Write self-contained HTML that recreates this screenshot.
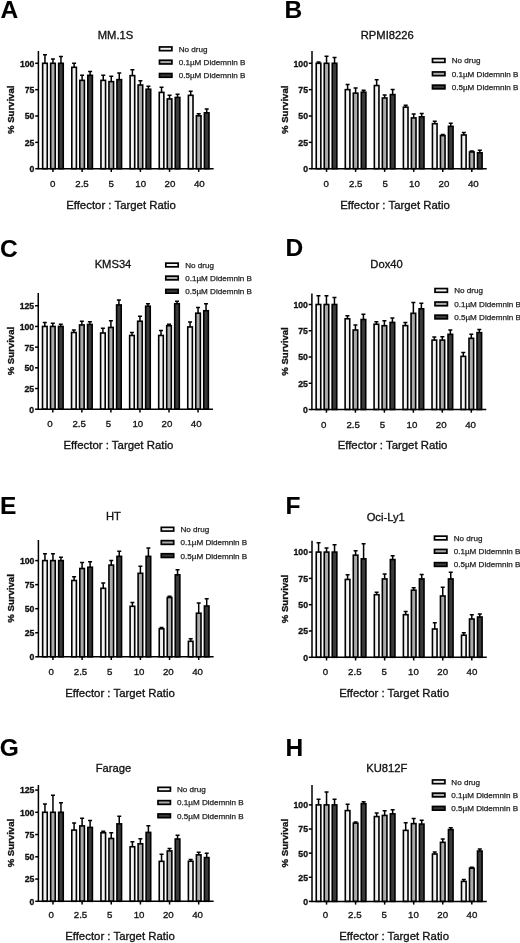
<!DOCTYPE html><html><head><meta charset="utf-8"><title>Figure</title><style>
html,body{margin:0;padding:0;background:#fff;}body{width:520px;height:943px;overflow:hidden;}
svg{display:block;filter:blur(0.3px);font-family:"Liberation Sans",sans-serif;}
.pl{font-weight:bold;font-size:24.5px;stroke-width:0.1px;fill:#000}.ti{font-size:11.2px;fill:#111;text-anchor:middle}
.yt{font-weight:bold;font-size:8.7px;fill:#111;text-anchor:end}.xt{font-size:9.7px;fill:#111;text-anchor:middle}
.xa{font-size:11.4px;fill:#111;text-anchor:middle}.ya{font-weight:bold;font-size:9.6px;fill:#111;text-anchor:middle}
.lg{font-size:8.1px;fill:#222}text{stroke:#111;stroke-width:0.32px;paint-order:stroke}.lg{stroke:#222;stroke-width:0.25px}
.ax{stroke:#000;stroke-width:1.5;fill:none}.eb{stroke:#000;stroke-width:1.5;fill:none}
.b0{fill:#f2f2f2;stroke:#000;stroke-width:1.6}.b1{fill:#aaaaaa;stroke:#000;stroke-width:1.6}.b2{fill:#3a3a3a;stroke:#000;stroke-width:1.6}
</style></head><body>
<svg width="520" height="943" viewBox="0 0 520 943">
<rect width="520" height="943" fill="#fff"/>
<g>
<text class="pl" x="0.6" y="17.7">A</text>
<text class="ti" x="115.5" y="38.6">MM.1S</text>
<path class="eb" d="M44.95 63.30V54.87M42.95 54.87H46.95"/>
<rect class="b0" x="42.65" y="63.30" width="4.60" height="105.40"/>
<path class="eb" d="M52.95 63.30V59.08M50.95 59.08H54.95"/>
<rect class="b1" x="50.65" y="63.30" width="4.60" height="105.40"/>
<path class="eb" d="M60.95 63.30V56.55M58.95 56.55H62.95"/>
<rect class="b2" x="58.65" y="63.30" width="4.60" height="105.40"/>
<path class="eb" d="M74.10 67.31V63.30M72.10 63.30H76.10"/>
<rect class="b0" x="71.80" y="67.31" width="4.60" height="101.39"/>
<path class="eb" d="M82.10 80.37V75.32M80.10 75.32H84.10"/>
<rect class="b1" x="79.80" y="80.37" width="4.60" height="88.33"/>
<path class="eb" d="M90.10 75.32V71.52M88.10 71.52H92.10"/>
<rect class="b2" x="87.80" y="75.32" width="4.60" height="93.38"/>
<path class="eb" d="M103.25 80.37V75.32M101.25 75.32H105.25"/>
<rect class="b0" x="100.95" y="80.37" width="4.60" height="88.33"/>
<path class="eb" d="M111.25 81.64V76.16M109.25 76.16H113.25"/>
<rect class="b1" x="108.95" y="81.64" width="4.60" height="87.06"/>
<path class="eb" d="M119.25 79.64V72.89M117.25 72.89H121.25"/>
<rect class="b2" x="116.95" y="79.64" width="4.60" height="89.06"/>
<path class="eb" d="M132.40 75.63V69.83M130.40 69.83H134.40"/>
<rect class="b0" x="130.10" y="75.63" width="4.60" height="93.07"/>
<path class="eb" d="M140.40 85.01V80.80M138.40 80.80H142.40"/>
<rect class="b1" x="138.10" y="85.01" width="4.60" height="83.69"/>
<path class="eb" d="M148.40 89.23V86.17M146.40 86.17H150.40"/>
<rect class="b2" x="146.10" y="89.23" width="4.60" height="79.47"/>
<path class="eb" d="M161.55 92.39V87.33M159.55 87.33H163.55"/>
<rect class="b0" x="159.25" y="92.39" width="4.60" height="76.31"/>
<path class="eb" d="M169.55 98.93V95.13M167.55 95.13H171.55"/>
<rect class="b1" x="167.25" y="98.93" width="4.60" height="69.77"/>
<path class="eb" d="M177.55 97.45V94.18M175.55 94.18H179.55"/>
<rect class="b2" x="175.25" y="97.45" width="4.60" height="71.25"/>
<path class="eb" d="M190.70 95.34V91.13M188.70 91.13H192.70"/>
<rect class="b0" x="188.40" y="95.34" width="4.60" height="73.36"/>
<path class="eb" d="M198.70 115.79V113.79M196.70 113.79H200.70"/>
<rect class="b1" x="196.40" y="115.79" width="4.60" height="52.91"/>
<path class="eb" d="M206.70 112.84V109.04M204.70 109.04H208.70"/>
<rect class="b2" x="204.40" y="112.84" width="4.60" height="55.86"/>
<path class="ax" d="M38.40 51.00V168.70H213.65"/>
<path class="ax" d="M35.20 168.70H38.40"/>
<text class="yt" x="34.4" y="172.0">0</text>
<path class="ax" d="M35.20 142.35H38.40"/>
<text class="yt" x="34.4" y="145.7">25</text>
<path class="ax" d="M35.20 116.00H38.40"/>
<text class="yt" x="34.4" y="119.3">50</text>
<path class="ax" d="M35.20 89.65H38.40"/>
<text class="yt" x="34.4" y="93.0">75</text>
<path class="ax" d="M35.20 63.30H38.40"/>
<text class="yt" x="34.4" y="66.6">100</text>
<path class="ax" d="M52.95 168.70V171.90"/>
<text class="xt" x="52.6" y="187.1">0</text>
<path class="ax" d="M82.10 168.70V171.90"/>
<text class="xt" x="82.0" y="187.1">2.5</text>
<path class="ax" d="M111.25 168.70V171.90"/>
<text class="xt" x="111.3" y="187.1">5</text>
<path class="ax" d="M140.40 168.70V171.90"/>
<text class="xt" x="140.7" y="187.1">10</text>
<path class="ax" d="M169.55 168.70V171.90"/>
<text class="xt" x="170.0" y="187.1">20</text>
<path class="ax" d="M198.70 168.70V171.90"/>
<text class="xt" x="199.3" y="187.1">40</text>
<text class="xa" x="121.0" y="208.6">Effector : Target Ratio</text>
<text class="ya" transform="translate(14.2 109.8) rotate(-90)">% Survival</text>
<rect class="b0" style="stroke-width:1.7" x="159.50" y="46.95" width="12.4" height="3.7"/>
<text class="lg" x="178.7" y="51.7">No drug</text>
<rect class="b1" style="stroke-width:1.7" x="159.50" y="60.25" width="12.4" height="3.7"/>
<text class="lg" x="178.7" y="65.0">0.1µM Didemnin B</text>
<rect class="b2" style="stroke-width:1.7" x="159.50" y="73.55" width="12.4" height="3.7"/>
<text class="lg" x="178.7" y="78.3">0.5µM Didemnin B</text>
</g>
<g>
<text class="pl" x="284.5" y="18.0">B</text>
<text class="ti" x="387.2" y="38.6">RPMI8226</text>
<path class="eb" d="M318.55 63.30V62.04M316.55 62.04H320.55"/>
<rect class="b0" x="316.25" y="63.30" width="4.60" height="105.40"/>
<path class="eb" d="M326.55 63.30V56.24M324.55 56.24H328.55"/>
<rect class="b1" x="324.25" y="63.30" width="4.60" height="105.40"/>
<path class="eb" d="M334.55 63.30V57.50M332.55 57.50H336.55"/>
<rect class="b2" x="332.25" y="63.30" width="4.60" height="105.40"/>
<path class="eb" d="M347.60 89.65V84.59M345.60 84.59H349.60"/>
<rect class="b0" x="345.30" y="89.65" width="4.60" height="79.05"/>
<path class="eb" d="M355.60 93.13V88.07M353.60 88.07H357.60"/>
<rect class="b1" x="353.30" y="93.13" width="4.60" height="75.57"/>
<path class="eb" d="M363.60 92.18V90.18M361.60 90.18H365.60"/>
<rect class="b2" x="361.30" y="92.18" width="4.60" height="76.52"/>
<path class="eb" d="M376.65 85.54V79.74M374.65 79.74H378.65"/>
<rect class="b0" x="374.35" y="85.54" width="4.60" height="83.16"/>
<path class="eb" d="M384.65 97.98V94.92M382.65 94.92H386.65"/>
<rect class="b1" x="382.35" y="97.98" width="4.60" height="70.72"/>
<path class="eb" d="M392.65 94.60V89.54M390.65 89.54H394.65"/>
<rect class="b2" x="390.35" y="94.60" width="4.60" height="74.10"/>
<path class="eb" d="M405.70 107.15V105.35M403.70 105.35H407.70"/>
<rect class="b0" x="403.40" y="107.15" width="4.60" height="61.55"/>
<path class="eb" d="M413.70 117.90V113.89M411.70 113.89H415.70"/>
<rect class="b1" x="411.40" y="117.90" width="4.60" height="50.80"/>
<path class="eb" d="M421.70 116.84V113.58M419.70 113.58H423.70"/>
<rect class="b2" x="419.40" y="116.84" width="4.60" height="51.86"/>
<path class="eb" d="M434.75 123.69V121.16M432.75 121.16H436.75"/>
<rect class="b0" x="432.45" y="123.69" width="4.60" height="45.01"/>
<path class="eb" d="M442.75 135.60V134.55M440.75 134.55H444.75"/>
<rect class="b1" x="440.45" y="135.60" width="4.60" height="33.10"/>
<path class="eb" d="M450.75 126.33V123.27M448.75 123.27H452.75"/>
<rect class="b2" x="448.45" y="126.33" width="4.60" height="42.37"/>
<path class="eb" d="M463.80 134.97V132.44M461.80 132.44H465.80"/>
<rect class="b0" x="461.50" y="134.97" width="4.60" height="33.73"/>
<path class="eb" d="M471.80 151.94V150.89M469.80 150.89H473.80"/>
<rect class="b1" x="469.50" y="151.94" width="4.60" height="16.76"/>
<path class="eb" d="M479.80 152.78V150.25M477.80 150.25H481.80"/>
<rect class="b2" x="477.50" y="152.78" width="4.60" height="15.92"/>
<path class="ax" d="M312.00 51.00V168.70H486.75"/>
<path class="ax" d="M308.80 168.70H312.00"/>
<text class="yt" x="308.0" y="172.0">0</text>
<path class="ax" d="M308.80 142.35H312.00"/>
<text class="yt" x="308.0" y="145.7">25</text>
<path class="ax" d="M308.80 116.00H312.00"/>
<text class="yt" x="308.0" y="119.3">50</text>
<path class="ax" d="M308.80 89.65H312.00"/>
<text class="yt" x="308.0" y="93.0">75</text>
<path class="ax" d="M308.80 63.30H312.00"/>
<text class="yt" x="308.0" y="66.6">100</text>
<path class="ax" d="M326.55 168.70V171.90"/>
<text class="xt" x="326.3" y="187.1">0</text>
<path class="ax" d="M355.60 168.70V171.90"/>
<text class="xt" x="355.7" y="187.1">2.5</text>
<path class="ax" d="M384.65 168.70V171.90"/>
<text class="xt" x="385.1" y="187.1">5</text>
<path class="ax" d="M413.70 168.70V171.90"/>
<text class="xt" x="414.5" y="187.1">10</text>
<path class="ax" d="M442.75 168.70V171.90"/>
<text class="xt" x="443.9" y="187.1">20</text>
<path class="ax" d="M471.80 168.70V171.90"/>
<text class="xt" x="473.3" y="187.1">40</text>
<text class="xa" x="395.0" y="208.6">Effector : Target Ratio</text>
<text class="ya" transform="translate(287.8 109.8) rotate(-90)">% Survival</text>
<rect class="b0" style="stroke-width:1.7" x="432.50" y="58.65" width="12.4" height="3.7"/>
<text class="lg" x="451.7" y="63.4">No drug</text>
<rect class="b1" style="stroke-width:1.7" x="432.50" y="71.95" width="12.4" height="3.7"/>
<text class="lg" x="451.7" y="76.7">0.1µM Didemnin B</text>
<rect class="b2" style="stroke-width:1.7" x="432.50" y="85.15" width="12.4" height="3.7"/>
<text class="lg" x="451.7" y="89.9">0.5µM Didemnin B</text>
</g>
<g>
<text class="pl" x="0.0" y="256.7">C</text>
<text class="ti" x="113.0" y="267.6">KMS34</text>
<path class="eb" d="M44.80 326.45V322.48M42.80 322.48H46.80"/>
<rect class="b0" x="42.50" y="326.45" width="4.60" height="82.75"/>
<path class="eb" d="M52.80 326.45V323.22M50.80 323.22H54.80"/>
<rect class="b1" x="50.50" y="326.45" width="4.60" height="82.75"/>
<path class="eb" d="M60.80 326.45V324.22M58.80 324.22H62.80"/>
<rect class="b2" x="58.50" y="326.45" width="4.60" height="82.75"/>
<path class="eb" d="M73.85 332.49V330.01M71.85 330.01H75.85"/>
<rect class="b0" x="71.55" y="332.49" width="4.60" height="76.71"/>
<path class="eb" d="M81.85 324.96V321.24M79.85 321.24H83.85"/>
<rect class="b1" x="79.55" y="324.96" width="4.60" height="84.24"/>
<path class="eb" d="M89.85 324.46V321.73M87.85 321.73H91.85"/>
<rect class="b2" x="87.55" y="324.46" width="4.60" height="84.74"/>
<path class="eb" d="M102.90 332.99V328.27M100.90 328.27H104.90"/>
<rect class="b0" x="100.60" y="332.99" width="4.60" height="76.21"/>
<path class="eb" d="M110.90 327.44V320.66M108.90 320.66H112.90"/>
<rect class="b1" x="108.60" y="327.44" width="4.60" height="81.76"/>
<path class="eb" d="M118.90 304.94V299.97M116.90 299.97H120.90"/>
<rect class="b2" x="116.60" y="304.94" width="4.60" height="104.26"/>
<path class="eb" d="M131.95 335.47V332.49M129.95 332.49H133.95"/>
<rect class="b0" x="129.65" y="335.47" width="4.60" height="73.73"/>
<path class="eb" d="M139.95 321.24V316.27M137.95 316.27H141.95"/>
<rect class="b1" x="137.65" y="321.24" width="4.60" height="87.96"/>
<path class="eb" d="M147.95 306.18V303.69M145.95 303.69H149.95"/>
<rect class="b2" x="145.65" y="306.18" width="4.60" height="103.02"/>
<path class="eb" d="M161.00 335.47V330.50M159.00 330.50H163.00"/>
<rect class="b0" x="158.70" y="335.47" width="4.60" height="73.73"/>
<path class="eb" d="M169.00 325.71V324.22M167.00 324.22H171.00"/>
<rect class="b1" x="166.70" y="325.71" width="4.60" height="83.49"/>
<path class="eb" d="M177.00 303.69V301.21M175.00 301.21H179.00"/>
<rect class="b2" x="174.70" y="303.69" width="4.60" height="105.51"/>
<path class="eb" d="M190.05 326.95V321.98M188.05 321.98H192.05"/>
<rect class="b0" x="187.75" y="326.95" width="4.60" height="82.25"/>
<path class="eb" d="M198.05 313.21V307.42M196.05 307.42H200.05"/>
<rect class="b1" x="195.75" y="313.21" width="4.60" height="95.99"/>
<path class="eb" d="M206.05 310.73V303.69M204.05 303.69H208.05"/>
<rect class="b2" x="203.75" y="310.73" width="4.60" height="98.47"/>
<path class="ax" d="M38.25 293.00V409.20H213.00"/>
<path class="ax" d="M35.05 409.20H38.25"/>
<text class="yt" x="34.2" y="412.6">0</text>
<path class="ax" d="M35.05 388.51H38.25"/>
<text class="yt" x="34.2" y="391.9">25</text>
<path class="ax" d="M35.05 367.82H38.25"/>
<text class="yt" x="34.2" y="371.2">50</text>
<path class="ax" d="M35.05 347.14H38.25"/>
<text class="yt" x="34.2" y="350.5">75</text>
<path class="ax" d="M35.05 326.45H38.25"/>
<text class="yt" x="34.2" y="329.8">100</text>
<path class="ax" d="M35.05 305.76H38.25"/>
<text class="yt" x="34.2" y="309.1">125</text>
<path class="ax" d="M52.80 409.20V412.40"/>
<text class="xt" x="50.0" y="427.4">0</text>
<path class="ax" d="M81.85 409.20V412.40"/>
<text class="xt" x="79.2" y="427.4">2.5</text>
<path class="ax" d="M110.90 409.20V412.40"/>
<text class="xt" x="108.5" y="427.4">5</text>
<path class="ax" d="M139.95 409.20V412.40"/>
<text class="xt" x="137.8" y="427.4">10</text>
<path class="ax" d="M169.00 409.20V412.40"/>
<text class="xt" x="167.0" y="427.4">20</text>
<path class="ax" d="M198.05 409.20V412.40"/>
<text class="xt" x="196.2" y="427.4">40</text>
<text class="xa" x="118.4" y="449.3">Effector : Target Ratio</text>
<text class="ya" transform="translate(14.1 351.1) rotate(-90)">% Survival</text>
<rect class="b0" style="stroke-width:1.7" x="165.80" y="263.15" width="12.4" height="3.7"/>
<text class="lg" x="185.2" y="267.9">No drug</text>
<rect class="b1" style="stroke-width:1.7" x="165.80" y="276.15" width="12.4" height="3.7"/>
<text class="lg" x="185.2" y="280.9">0.1µM Didemnin B</text>
<rect class="b2" style="stroke-width:1.7" x="165.80" y="289.45" width="12.4" height="3.7"/>
<text class="lg" x="185.2" y="294.2">0.5µM Didemnin B</text>
</g>
<g>
<text class="pl" x="285.5" y="256.3">D</text>
<text class="ti" x="386.5" y="267.6">Dox40</text>
<path class="eb" d="M318.45 304.50V295.79M316.45 295.79H320.45"/>
<rect class="b0" x="316.15" y="304.50" width="4.60" height="105.00"/>
<path class="eb" d="M326.45 304.50V295.79M324.45 295.79H328.45"/>
<rect class="b1" x="324.15" y="304.50" width="4.60" height="105.00"/>
<path class="eb" d="M334.45 304.50V297.46M332.45 297.46H336.45"/>
<rect class="b2" x="332.15" y="304.50" width="4.60" height="105.00"/>
<path class="eb" d="M347.42 318.78V315.73M345.42 315.73H349.42"/>
<rect class="b0" x="345.12" y="318.78" width="4.60" height="90.72"/>
<path class="eb" d="M355.42 330.01V324.97M353.42 324.97H357.42"/>
<rect class="b1" x="353.12" y="330.01" width="4.60" height="79.49"/>
<path class="eb" d="M363.42 319.51V314.26M361.42 314.26H365.42"/>
<rect class="b2" x="361.12" y="319.51" width="4.60" height="89.99"/>
<path class="eb" d="M376.39 324.24V321.72M374.39 321.72H378.39"/>
<rect class="b0" x="374.09" y="324.24" width="4.60" height="85.26"/>
<path class="eb" d="M384.39 325.71V320.67M382.39 320.67H386.39"/>
<rect class="b1" x="382.09" y="325.71" width="4.60" height="83.79"/>
<path class="eb" d="M392.39 322.45V317.94M390.39 317.94H394.39"/>
<rect class="b2" x="390.09" y="322.45" width="4.60" height="87.05"/>
<path class="eb" d="M405.36 325.61V322.56M403.36 322.56H407.36"/>
<rect class="b0" x="403.06" y="325.61" width="4.60" height="83.89"/>
<path class="eb" d="M413.36 313.32V302.61M411.36 302.61H415.36"/>
<rect class="b1" x="411.06" y="313.32" width="4.60" height="96.18"/>
<path class="eb" d="M421.36 308.81V303.35M419.36 303.35H423.36"/>
<rect class="b2" x="419.06" y="308.81" width="4.60" height="100.69"/>
<path class="eb" d="M434.33 340.10V337.05M432.33 337.05H436.33"/>
<rect class="b0" x="432.03" y="340.10" width="4.60" height="69.40"/>
<path class="eb" d="M442.33 340.10V336.84M440.33 336.84H444.33"/>
<rect class="b1" x="440.03" y="340.10" width="4.60" height="69.40"/>
<path class="eb" d="M450.33 334.32V330.12M448.33 330.12H452.33"/>
<rect class="b2" x="448.03" y="334.32" width="4.60" height="75.18"/>
<path class="eb" d="M463.30 356.37V352.59M461.30 352.59H465.30"/>
<rect class="b0" x="461.00" y="356.37" width="4.60" height="53.13"/>
<path class="eb" d="M471.30 338.31V334.32M469.30 334.32H473.30"/>
<rect class="b1" x="469.00" y="338.31" width="4.60" height="71.19"/>
<path class="eb" d="M479.30 332.64V329.38M477.30 329.38H481.30"/>
<rect class="b2" x="477.00" y="332.64" width="4.60" height="76.86"/>
<path class="ax" d="M311.90 293.50V409.50H486.25"/>
<path class="ax" d="M308.70 409.50H311.90"/>
<text class="yt" x="307.9" y="412.9">0</text>
<path class="ax" d="M308.70 383.25H311.90"/>
<text class="yt" x="307.9" y="386.6">25</text>
<path class="ax" d="M308.70 357.00H311.90"/>
<text class="yt" x="307.9" y="360.4">50</text>
<path class="ax" d="M308.70 330.75H311.90"/>
<text class="yt" x="307.9" y="334.1">75</text>
<path class="ax" d="M308.70 304.50H311.90"/>
<text class="yt" x="307.9" y="307.9">100</text>
<path class="ax" d="M326.45 409.50V412.70"/>
<text class="xt" x="323.8" y="427.5">0</text>
<path class="ax" d="M355.42 409.50V412.70"/>
<text class="xt" x="353.2" y="427.5">2.5</text>
<path class="ax" d="M384.39 409.50V412.70"/>
<text class="xt" x="382.5" y="427.5">5</text>
<path class="ax" d="M413.36 409.50V412.70"/>
<text class="xt" x="411.9" y="427.5">10</text>
<path class="ax" d="M442.33 409.50V412.70"/>
<text class="xt" x="441.2" y="427.5">20</text>
<path class="ax" d="M471.30 409.50V412.70"/>
<text class="xt" x="470.6" y="427.5">40</text>
<text class="xa" x="392.5" y="449.3">Effector : Target Ratio</text>
<text class="ya" transform="translate(287.7 351.5) rotate(-90)">% Survival</text>
<rect class="b0" style="stroke-width:1.7" x="435.00" y="288.55" width="12.4" height="3.7"/>
<text class="lg" x="454.2" y="293.3">No drug</text>
<rect class="b1" style="stroke-width:1.7" x="435.00" y="302.05" width="12.4" height="3.7"/>
<text class="lg" x="454.2" y="306.8">0.1µM Didemnin B</text>
<rect class="b2" style="stroke-width:1.7" x="435.00" y="315.15" width="12.4" height="3.7"/>
<text class="lg" x="454.2" y="319.9">0.5µM Didemnin B</text>
</g>
<g>
<text class="pl" x="0.0" y="513.8">E</text>
<text class="ti" x="113.5" y="520.1">HT</text>
<path class="eb" d="M44.95 560.60V553.87M42.95 553.87H46.95"/>
<rect class="b0" x="42.65" y="560.60" width="4.60" height="96.20"/>
<path class="eb" d="M52.95 560.60V553.87M50.95 553.87H54.95"/>
<rect class="b1" x="50.65" y="560.60" width="4.60" height="96.20"/>
<path class="eb" d="M60.95 560.60V557.14M58.95 557.14H62.95"/>
<rect class="b2" x="58.65" y="560.60" width="4.60" height="96.20"/>
<path class="eb" d="M74.10 580.51V576.76M72.10 576.76H76.10"/>
<rect class="b0" x="71.80" y="580.51" width="4.60" height="76.29"/>
<path class="eb" d="M82.10 568.49V562.52M80.10 562.52H84.10"/>
<rect class="b1" x="79.80" y="568.49" width="4.60" height="88.31"/>
<path class="eb" d="M90.10 567.24V561.75M88.10 561.75H92.10"/>
<rect class="b2" x="87.80" y="567.24" width="4.60" height="89.56"/>
<path class="eb" d="M103.25 588.31V583.01M101.25 583.01H105.25"/>
<rect class="b0" x="100.95" y="588.31" width="4.60" height="68.49"/>
<path class="eb" d="M111.25 565.12V560.60M109.25 560.60H113.25"/>
<rect class="b1" x="108.95" y="565.12" width="4.60" height="91.68"/>
<path class="eb" d="M119.25 556.37V551.36M117.25 551.36H121.25"/>
<rect class="b2" x="116.95" y="556.37" width="4.60" height="100.43"/>
<path class="eb" d="M132.40 606.29V602.54M130.40 602.54H134.40"/>
<rect class="b0" x="130.10" y="606.29" width="4.60" height="50.50"/>
<path class="eb" d="M140.40 573.30V566.28M138.40 566.28H142.40"/>
<rect class="b1" x="138.10" y="573.30" width="4.60" height="83.50"/>
<path class="eb" d="M148.40 556.37V548.09M146.40 548.09H150.40"/>
<rect class="b2" x="146.10" y="556.37" width="4.60" height="100.43"/>
<path class="eb" d="M161.55 628.81V627.56M159.55 627.56H163.55"/>
<rect class="b0" x="159.25" y="628.81" width="4.60" height="27.99"/>
<path class="eb" d="M169.55 597.54V596.29M167.55 596.29H171.55"/>
<rect class="b1" x="167.25" y="597.54" width="4.60" height="59.26"/>
<path class="eb" d="M177.55 574.84V569.84M175.55 569.84H179.55"/>
<rect class="b2" x="175.25" y="574.84" width="4.60" height="81.96"/>
<path class="eb" d="M190.70 641.31V638.81M188.70 638.81H192.70"/>
<rect class="b0" x="188.40" y="641.31" width="4.60" height="15.49"/>
<path class="eb" d="M198.70 613.22V602.93M196.70 602.93H200.70"/>
<rect class="b1" x="196.40" y="613.22" width="4.60" height="43.58"/>
<path class="eb" d="M206.70 606.01V598.79M204.70 598.79H208.70"/>
<rect class="b2" x="204.40" y="606.01" width="4.60" height="50.79"/>
<path class="ax" d="M38.40 540.00V656.80H213.65"/>
<path class="ax" d="M35.20 656.80H38.40"/>
<text class="yt" x="34.4" y="660.1">0</text>
<path class="ax" d="M35.20 632.75H38.40"/>
<text class="yt" x="34.4" y="636.1">25</text>
<path class="ax" d="M35.20 608.70H38.40"/>
<text class="yt" x="34.4" y="612.0">50</text>
<path class="ax" d="M35.20 584.65H38.40"/>
<text class="yt" x="34.4" y="588.0">75</text>
<path class="ax" d="M35.20 560.60H38.40"/>
<text class="yt" x="34.4" y="563.9">100</text>
<path class="ax" d="M52.95 656.80V660.00"/>
<text class="xt" x="51.3" y="675.0">0</text>
<path class="ax" d="M82.10 656.80V660.00"/>
<text class="xt" x="80.5" y="675.0">2.5</text>
<path class="ax" d="M111.25 656.80V660.00"/>
<text class="xt" x="109.8" y="675.0">5</text>
<path class="ax" d="M140.40 656.80V660.00"/>
<text class="xt" x="139.1" y="675.0">10</text>
<path class="ax" d="M169.55 656.80V660.00"/>
<text class="xt" x="168.3" y="675.0">20</text>
<path class="ax" d="M198.70 656.80V660.00"/>
<text class="xt" x="197.6" y="675.0">40</text>
<text class="xa" x="120.0" y="697.0">Effector : Target Ratio</text>
<text class="ya" transform="translate(14.2 598.4) rotate(-90)">% Survival</text>
<rect class="b0" style="stroke-width:1.7" x="161.30" y="527.35" width="12.4" height="3.7"/>
<text class="lg" x="180.5" y="532.1">No drug</text>
<rect class="b1" style="stroke-width:1.7" x="161.30" y="540.65" width="12.4" height="3.7"/>
<text class="lg" x="180.5" y="545.4">0.1µM Didemnin B</text>
<rect class="b2" style="stroke-width:1.7" x="161.30" y="553.75" width="12.4" height="3.7"/>
<text class="lg" x="180.5" y="558.5">0.5µM Didemnin B</text>
</g>
<g>
<text class="pl" x="285.5" y="513.8">F</text>
<text class="ti" x="385.7" y="520.5">Oci-Ly1</text>
<path class="eb" d="M318.55 552.10V542.63M316.55 542.63H320.55"/>
<rect class="b0" x="316.25" y="552.10" width="4.60" height="105.20"/>
<path class="eb" d="M326.55 552.10V548.10M324.55 548.10H328.55"/>
<rect class="b1" x="324.25" y="552.10" width="4.60" height="105.20"/>
<path class="eb" d="M334.55 552.10V544.63M332.55 544.63H336.55"/>
<rect class="b2" x="332.25" y="552.10" width="4.60" height="105.20"/>
<path class="eb" d="M347.60 579.45V574.72M345.60 574.72H349.60"/>
<rect class="b0" x="345.30" y="579.45" width="4.60" height="77.85"/>
<path class="eb" d="M355.60 555.15V550.63M353.60 550.63H357.60"/>
<rect class="b1" x="353.30" y="555.15" width="4.60" height="102.15"/>
<path class="eb" d="M363.60 558.83V543.79M361.60 543.79H365.60"/>
<rect class="b2" x="361.30" y="558.83" width="4.60" height="98.47"/>
<path class="eb" d="M376.65 594.71V592.18M374.65 592.18H378.65"/>
<rect class="b0" x="374.35" y="594.71" width="4.60" height="62.59"/>
<path class="eb" d="M384.65 578.93V573.88M382.65 573.88H386.65"/>
<rect class="b1" x="382.35" y="578.93" width="4.60" height="78.37"/>
<path class="eb" d="M392.65 559.57V555.68M390.65 555.68H394.65"/>
<rect class="b2" x="390.35" y="559.57" width="4.60" height="97.73"/>
<path class="eb" d="M405.70 614.69V611.43M403.70 611.43H407.70"/>
<rect class="b0" x="403.40" y="614.69" width="4.60" height="42.61"/>
<path class="eb" d="M413.70 590.18V587.66M411.70 587.66H415.70"/>
<rect class="b1" x="411.40" y="590.18" width="4.60" height="67.12"/>
<path class="eb" d="M421.70 578.93V574.40M419.70 574.40H423.70"/>
<rect class="b2" x="419.40" y="578.93" width="4.60" height="78.37"/>
<path class="eb" d="M434.75 629.00V622.69M432.75 622.69H436.75"/>
<rect class="b0" x="432.45" y="629.00" width="4.60" height="28.30"/>
<path class="eb" d="M442.75 595.97V587.24M440.75 587.24H444.75"/>
<rect class="b1" x="440.45" y="595.97" width="4.60" height="61.33"/>
<path class="eb" d="M450.75 578.93V572.19M448.75 572.19H452.75"/>
<rect class="b2" x="448.45" y="578.93" width="4.60" height="78.37"/>
<path class="eb" d="M463.80 635.21V632.68M461.80 632.68H465.80"/>
<rect class="b0" x="461.50" y="635.21" width="4.60" height="22.09"/>
<path class="eb" d="M471.80 619.01V614.80M469.80 614.80H473.80"/>
<rect class="b1" x="469.50" y="619.01" width="4.60" height="38.29"/>
<path class="eb" d="M479.80 617.01V613.96M477.80 613.96H481.80"/>
<rect class="b2" x="477.50" y="617.01" width="4.60" height="40.29"/>
<path class="ax" d="M312.00 540.70V657.30H486.75"/>
<path class="ax" d="M308.80 657.30H312.00"/>
<text class="yt" x="308.0" y="660.6">0</text>
<path class="ax" d="M308.80 631.00H312.00"/>
<text class="yt" x="308.0" y="634.4">25</text>
<path class="ax" d="M308.80 604.70H312.00"/>
<text class="yt" x="308.0" y="608.0">50</text>
<path class="ax" d="M308.80 578.40H312.00"/>
<text class="yt" x="308.0" y="581.8">75</text>
<path class="ax" d="M308.80 552.10H312.00"/>
<text class="yt" x="308.0" y="555.4">100</text>
<path class="ax" d="M326.55 657.30V660.50"/>
<text class="xt" x="325.5" y="675.0">0</text>
<path class="ax" d="M355.60 657.30V660.50"/>
<text class="xt" x="354.8" y="675.0">2.5</text>
<path class="ax" d="M384.65 657.30V660.50"/>
<text class="xt" x="384.1" y="675.0">5</text>
<path class="ax" d="M413.70 657.30V660.50"/>
<text class="xt" x="413.4" y="675.0">10</text>
<path class="ax" d="M442.75 657.30V660.50"/>
<text class="xt" x="442.7" y="675.0">20</text>
<path class="ax" d="M471.80 657.30V660.50"/>
<text class="xt" x="472.0" y="675.0">40</text>
<text class="xa" x="394.1" y="697.0">Effector : Target Ratio</text>
<text class="ya" transform="translate(287.8 599.0) rotate(-90)">% Survival</text>
<rect class="b0" style="stroke-width:1.7" x="434.50" y="536.15" width="12.4" height="3.7"/>
<text class="lg" x="453.7" y="540.9">No drug</text>
<rect class="b1" style="stroke-width:1.7" x="434.50" y="549.45" width="12.4" height="3.7"/>
<text class="lg" x="453.7" y="554.2">0.1µM Didemnin B</text>
<rect class="b2" style="stroke-width:1.7" x="434.50" y="562.65" width="12.4" height="3.7"/>
<text class="lg" x="453.7" y="567.4">0.5µM Didemnin B</text>
</g>
<g>
<text class="pl" x="-0.3" y="756.0">G</text>
<text class="ti" x="113.5" y="771.5">Farage</text>
<path class="eb" d="M44.95 812.30V804.02M42.95 804.02H46.95"/>
<rect class="b0" x="42.65" y="812.30" width="4.60" height="89.00"/>
<path class="eb" d="M52.95 812.30V795.21M50.95 795.21H54.95"/>
<rect class="b1" x="50.65" y="812.30" width="4.60" height="89.00"/>
<path class="eb" d="M60.95 812.30V802.78M58.95 802.78H62.95"/>
<rect class="b2" x="58.65" y="812.30" width="4.60" height="89.00"/>
<path class="eb" d="M74.10 830.10V823.07M72.10 823.07H76.10"/>
<rect class="b0" x="71.80" y="830.10" width="4.60" height="71.20"/>
<path class="eb" d="M82.10 825.92V818.35M80.10 818.35H84.10"/>
<rect class="b1" x="79.80" y="825.92" width="4.60" height="75.38"/>
<path class="eb" d="M90.10 827.43V820.40M88.10 820.40H92.10"/>
<rect class="b2" x="87.80" y="827.43" width="4.60" height="73.87"/>
<path class="eb" d="M103.25 832.77V831.35M101.25 831.35H105.25"/>
<rect class="b0" x="100.95" y="832.77" width="4.60" height="68.53"/>
<path class="eb" d="M111.25 838.47V832.86M109.25 832.86H113.25"/>
<rect class="b1" x="108.95" y="838.47" width="4.60" height="62.83"/>
<path class="eb" d="M119.25 823.87V816.30M117.25 816.30H121.25"/>
<rect class="b2" x="116.95" y="823.87" width="4.60" height="77.43"/>
<path class="eb" d="M132.40 846.74V841.67M130.40 841.67H134.40"/>
<rect class="b0" x="130.10" y="846.74" width="4.60" height="54.56"/>
<path class="eb" d="M140.40 843.81V838.73M138.40 838.73H142.40"/>
<rect class="b1" x="138.10" y="843.81" width="4.60" height="57.49"/>
<path class="eb" d="M148.40 832.41V825.83M146.40 825.83H150.40"/>
<rect class="b2" x="146.10" y="832.41" width="4.60" height="68.89"/>
<path class="eb" d="M161.55 861.34V854.22M159.55 854.22H163.55"/>
<rect class="b0" x="159.25" y="861.34" width="4.60" height="39.96"/>
<path class="eb" d="M169.55 850.93V848.43M167.55 848.43H171.55"/>
<rect class="b1" x="167.25" y="850.93" width="4.60" height="50.37"/>
<path class="eb" d="M177.55 839.00V835.26M175.55 835.26H179.55"/>
<rect class="b2" x="175.25" y="839.00" width="4.60" height="62.30"/>
<path class="eb" d="M190.70 861.25V859.47M188.70 859.47H192.70"/>
<rect class="b0" x="188.40" y="861.25" width="4.60" height="40.05"/>
<path class="eb" d="M198.70 854.84V852.35M196.70 852.35H200.70"/>
<rect class="b1" x="196.40" y="854.84" width="4.60" height="46.46"/>
<path class="eb" d="M206.70 857.60V853.33M204.70 853.33H208.70"/>
<rect class="b2" x="204.40" y="857.60" width="4.60" height="43.70"/>
<path class="ax" d="M38.40 785.00V901.30H213.65"/>
<path class="ax" d="M35.20 901.30H38.40"/>
<text class="yt" x="34.4" y="904.6">0</text>
<path class="ax" d="M35.20 879.05H38.40"/>
<text class="yt" x="34.4" y="882.4">25</text>
<path class="ax" d="M35.20 856.80H38.40"/>
<text class="yt" x="34.4" y="860.1">50</text>
<path class="ax" d="M35.20 834.55H38.40"/>
<text class="yt" x="34.4" y="837.9">75</text>
<path class="ax" d="M35.20 812.30H38.40"/>
<text class="yt" x="34.4" y="815.6">100</text>
<path class="ax" d="M35.20 790.05H38.40"/>
<text class="yt" x="34.4" y="793.4">125</text>
<path class="ax" d="M52.95 901.30V904.50"/>
<text class="xt" x="51.3" y="918.1">0</text>
<path class="ax" d="M82.10 901.30V904.50"/>
<text class="xt" x="80.5" y="918.1">2.5</text>
<path class="ax" d="M111.25 901.30V904.50"/>
<text class="xt" x="109.8" y="918.1">5</text>
<path class="ax" d="M140.40 901.30V904.50"/>
<text class="xt" x="139.1" y="918.1">10</text>
<path class="ax" d="M169.55 901.30V904.50"/>
<text class="xt" x="168.3" y="918.1">20</text>
<path class="ax" d="M198.70 901.30V904.50"/>
<text class="xt" x="197.6" y="918.1">40</text>
<text class="xa" x="120.0" y="940.2">Effector : Target Ratio</text>
<text class="ya" transform="translate(14.2 843.1) rotate(-90)">% Survival</text>
<rect class="b0" style="stroke-width:1.7" x="158.00" y="787.35" width="12.4" height="3.7"/>
<text class="lg" x="177.0" y="792.1">No drug</text>
<rect class="b1" style="stroke-width:1.7" x="158.00" y="800.65" width="12.4" height="3.7"/>
<text class="lg" x="177.0" y="805.4">0.1µM Didemnin B</text>
<rect class="b2" style="stroke-width:1.7" x="158.00" y="813.95" width="12.4" height="3.7"/>
<text class="lg" x="177.0" y="818.7">0.5µM Didemnin B</text>
</g>
<g>
<text class="pl" x="285.4" y="756.2">H</text>
<text class="ti" x="386.7" y="771.5">KU812F</text>
<path class="eb" d="M318.55 804.90V799.21M316.55 799.21H320.55"/>
<rect class="b0" x="316.25" y="804.90" width="4.60" height="96.50"/>
<path class="eb" d="M326.55 804.90V791.97M324.55 791.97H328.55"/>
<rect class="b1" x="324.25" y="804.90" width="4.60" height="96.50"/>
<path class="eb" d="M334.55 804.90V799.21M332.55 799.21H336.55"/>
<rect class="b2" x="332.25" y="804.90" width="4.60" height="96.50"/>
<path class="eb" d="M347.60 810.59V804.32M345.60 804.32H349.60"/>
<rect class="b0" x="345.30" y="810.59" width="4.60" height="90.81"/>
<path class="eb" d="M355.60 823.14V821.88M353.60 821.88H357.60"/>
<rect class="b1" x="353.30" y="823.14" width="4.60" height="78.26"/>
<path class="eb" d="M363.60 803.65V801.72M361.60 801.72H365.60"/>
<rect class="b2" x="361.30" y="803.65" width="4.60" height="97.75"/>
<path class="eb" d="M376.65 816.58V813.10M374.65 813.10H378.65"/>
<rect class="b0" x="374.35" y="816.58" width="4.60" height="84.82"/>
<path class="eb" d="M384.65 815.42V810.69M382.65 810.69H386.65"/>
<rect class="b1" x="382.35" y="815.42" width="4.60" height="85.98"/>
<path class="eb" d="M392.65 813.87V809.63M390.65 809.63H394.65"/>
<rect class="b2" x="390.35" y="813.87" width="4.60" height="87.53"/>
<path class="eb" d="M405.70 830.38V822.85M403.70 822.85H407.70"/>
<rect class="b0" x="403.40" y="830.38" width="4.60" height="71.02"/>
<path class="eb" d="M413.70 823.62V818.60M411.70 818.60H415.70"/>
<rect class="b1" x="411.40" y="823.62" width="4.60" height="77.78"/>
<path class="eb" d="M421.70 824.10V820.34M419.70 820.34H423.70"/>
<rect class="b2" x="419.40" y="824.10" width="4.60" height="77.30"/>
<path class="eb" d="M434.75 854.02V852.09M432.75 852.09H436.75"/>
<rect class="b0" x="432.45" y="854.02" width="4.60" height="47.38"/>
<path class="eb" d="M442.75 842.34V839.06M440.75 839.06H444.75"/>
<rect class="b1" x="440.45" y="842.34" width="4.60" height="59.06"/>
<path class="eb" d="M450.75 829.60V827.87M448.75 827.87H452.75"/>
<rect class="b2" x="448.45" y="829.60" width="4.60" height="71.80"/>
<path class="eb" d="M463.80 881.42V879.49M461.80 879.49H465.80"/>
<rect class="b0" x="461.50" y="881.42" width="4.60" height="19.98"/>
<path class="eb" d="M471.80 868.20V867.24M469.80 867.24H473.80"/>
<rect class="b1" x="469.50" y="868.20" width="4.60" height="33.20"/>
<path class="eb" d="M479.80 851.03V849.10M477.80 849.10H481.80"/>
<rect class="b2" x="477.50" y="851.03" width="4.60" height="50.37"/>
<path class="ax" d="M312.00 785.00V901.40H486.75"/>
<path class="ax" d="M308.80 901.40H312.00"/>
<text class="yt" x="308.0" y="904.8">0</text>
<path class="ax" d="M308.80 877.27H312.00"/>
<text class="yt" x="308.0" y="880.6">25</text>
<path class="ax" d="M308.80 853.15H312.00"/>
<text class="yt" x="308.0" y="856.5">50</text>
<path class="ax" d="M308.80 829.02H312.00"/>
<text class="yt" x="308.0" y="832.4">75</text>
<path class="ax" d="M308.80 804.90H312.00"/>
<text class="yt" x="308.0" y="808.2">100</text>
<path class="ax" d="M326.55 901.40V904.60"/>
<text class="xt" x="325.5" y="918.1">0</text>
<path class="ax" d="M355.60 901.40V904.60"/>
<text class="xt" x="354.8" y="918.1">2.5</text>
<path class="ax" d="M384.65 901.40V904.60"/>
<text class="xt" x="384.1" y="918.1">5</text>
<path class="ax" d="M413.70 901.40V904.60"/>
<text class="xt" x="413.4" y="918.1">10</text>
<path class="ax" d="M442.75 901.40V904.60"/>
<text class="xt" x="442.7" y="918.1">20</text>
<path class="ax" d="M471.80 901.40V904.60"/>
<text class="xt" x="472.0" y="918.1">40</text>
<text class="xa" x="394.1" y="940.2">Effector : Target Ratio</text>
<text class="ya" transform="translate(287.8 843.2) rotate(-90)">% Survival</text>
<rect class="b0" style="stroke-width:1.7" x="432.50" y="779.95" width="12.4" height="3.7"/>
<text class="lg" x="451.3" y="784.7">No drug</text>
<rect class="b1" style="stroke-width:1.7" x="432.50" y="793.15" width="12.4" height="3.7"/>
<text class="lg" x="451.3" y="797.9">0.1µM Didemnin B</text>
<rect class="b2" style="stroke-width:1.7" x="432.50" y="806.45" width="12.4" height="3.7"/>
<text class="lg" x="451.3" y="811.2">0.5µM Didemnin B</text>
</g>
</svg></body></html>
